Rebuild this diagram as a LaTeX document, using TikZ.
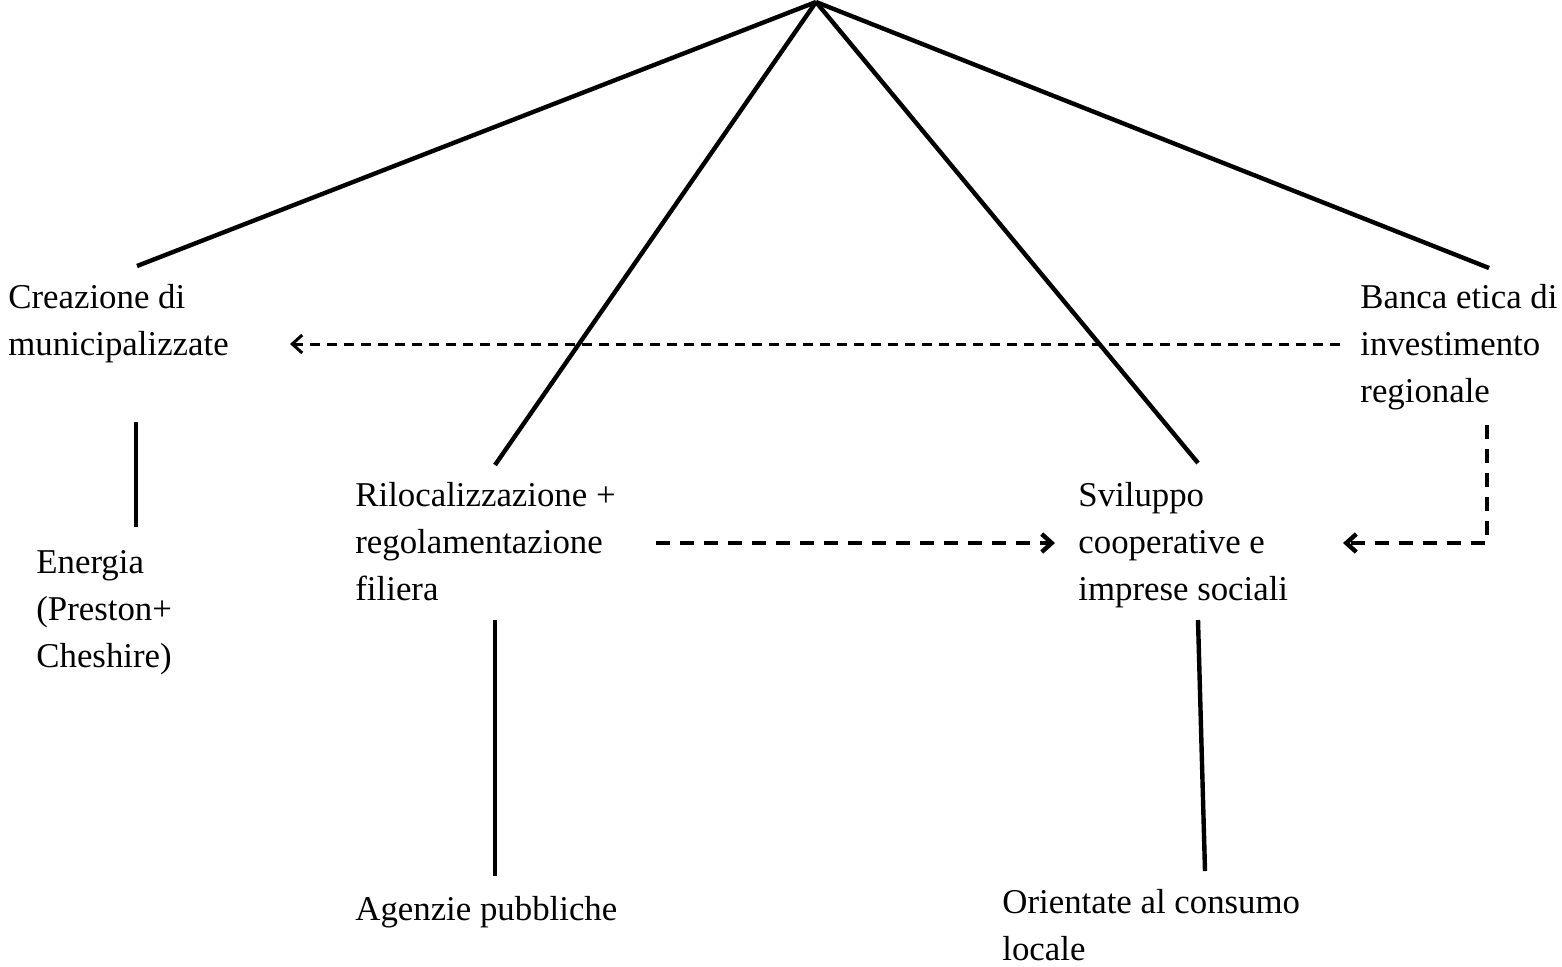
\documentclass[tikz,border=0pt]{standalone}
\usepackage{fontspec}
\setmainfont{Liberation Serif}
\usetikzlibrary{positioning,calc,arrows.meta}

\begin{document}
\begin{tikzpicture}[
	x=0.5pt, y=-0.5pt,
	% testo dei blocchi (ancorato alla base dell'ultima riga)
	blocco/.style={anchor=base west, align=left, inner sep=0pt,
		font=\fontsize{17.4}{23.5}\selectfont},
	% linee piene dell'albero
	ramo/.style={draw=black, line width=2.2pt},
	% frecce tratteggiate
	legame/.style={draw=black, line width=1.5pt, dash pattern=on 5pt off 3.5pt,
		-{Straight Barb[length=5pt,width=9pt,line width=1.5pt]}},
	forte/.style={draw=black, line width=2.2pt, dash pattern=on 7pt off 5pt,
		-{Straight Barb[length=5pt,width=9pt,line width=2.2pt]}}
	]
	\useasboundingbox (0,0) rectangle (1562,966);

	% --- radice ---
	\coordinate (radice) at (816,2);

	% --- BLOCCHI ---
	\node[blocco] (crea) at (8,355) {Creazione di\\municipalizzate};
	\node[blocco] (ener) at (36,667) {Energia\\(Preston+\\Cheshire)};
	\node[blocco] (rilo) at (355,600) {Rilocalizzazione +\\regolamentazione\\filiera};
	\node[blocco] (agen) at (355,920) {Agenzie pubbliche};
	\node[blocco] (svil) at (1078,600) {Sviluppo\\cooperative e\\imprese sociali};
	\node[blocco] (orie) at (1002,960) {Orientate al consumo\\locale};
	\node[blocco] (banca) at (1360,402) {Banca etica di\\investimento\\regionale};

	% punti di aggancio
	\coordinate (creaT) at (137,266);
	\coordinate (creaB) at (136,422);
	\coordinate (enerT) at (136,527);
	\coordinate (riloT) at (495,465);
	\coordinate (riloB) at (495,620);
	\coordinate (agenT) at (495,876);
	\coordinate (svilT) at (1198,463);
	\coordinate (svilB) at (1198,620);
	\coordinate (orieT) at (1205,871);
	\coordinate (bancaT) at (1489,268);
	\coordinate (bancaB) at (1487,425);
	\coordinate (angolo) at (1487,543);

	% --- RAMI ---
	\draw[ramo] (radice) -- (creaT);
	\draw[ramo] (radice) -- (riloT);
	\draw[ramo] (radice) -- (svilT);
	\draw[ramo] (radice) -- (bancaT);
	\draw[ramo] (creaB) -- (enerT);
	\draw[ramo] (riloB) -- (agenT);
	\draw[ramo] (svilB) -- (orieT);

	% --- FRECCE ---
	\draw[legame] (1340,344) -- (290,344);
	\draw[forte] (656,543) -- (1055,543);
	\draw[forte] (bancaB) -- (angolo) -- (1343,543);
\end{tikzpicture}
\end{document}
